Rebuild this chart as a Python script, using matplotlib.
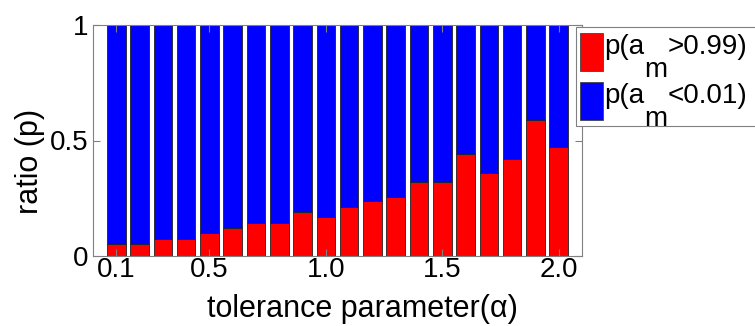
import matplotlib.pyplot as plt
from matplotlib.patches import Rectangle

plt.rcParams['font.family'] = ['Liberation Sans', 'DejaVu Sans']

# tolerance parameter values and the share of each outcome
alpha = [0.1, 0.2, 0.3, 0.4, 0.5, 0.6, 0.7, 0.8, 0.9, 1.0,
         1.1, 1.2, 1.3, 1.4, 1.5, 1.6, 1.7, 1.8, 1.9, 2.0]
p_high = [0.050, 0.050, 0.075, 0.075, 0.098, 0.121, 0.145, 0.145, 0.189, 0.167,
          0.210, 0.236, 0.255, 0.319, 0.319, 0.443, 0.359, 0.418, 0.587, 0.474]
p_low = [1 - v for v in p_high]

xtick_vals = [0.1, 0.5, 1.0, 1.5, 2.0]
xtick_labels = ['0.1', '0.5', '1.0', '1.5', '2.0']

RED = '#ff0000'
BLUE = '#0000ff'
W, H = 755, 326


def px(x, y):
    # pixel position (from top-left) -> figure fraction
    return x / W, 1 - y / H


def legend_entry(fig, renderer, color, y_patch, y_base, pre, sub, post):
    fig.add_artist(Rectangle(px(580, y_patch + 38)[::1], 23 / W, 38 / H,
                             transform=fig.transFigure, facecolor=color,
                             edgecolor='#444444', linewidth=0.6))
    x0, yb = px(604, y_base)
    t1 = fig.text(x0, yb, pre, fontsize=20, va='baseline')
    x1 = t1.get_window_extent(renderer).x1 / fig.dpi / fig.get_figwidth()
    t2 = fig.text(x1, px(0, y_base + 23)[1], sub, fontsize=20, va='baseline')
    x2 = t2.get_window_extent(renderer).x1 / fig.dpi / fig.get_figwidth()
    fig.text(x2, yb, post, fontsize=20, va='baseline')


def main():
    fig = plt.figure(figsize=(7.55, 3.26), dpi=100)
    ax = fig.add_axes([93 / W, 1 - 256 / H, 489 / W, 231 / H])

    ax.bar(alpha, p_high, width=0.08, color=RED, edgecolor='#222222', linewidth=0.6)
    ax.bar(alpha, p_low, width=0.08, bottom=p_high, color=BLUE,
           edgecolor='#222222', linewidth=0.6)

    ax.set_xlim(0, 2.1)
    ax.set_ylim(0, 1)
    ax.set_xticks(xtick_vals)
    ax.set_xticklabels(xtick_labels)
    ax.set_yticks([0, 0.5, 1])
    ax.set_yticklabels(['0', '0.5', '1'])
    ax.tick_params(direction='in', length=5, width=0.8, color='#808080',
                   labelsize=20, top=True, right=True)
    ax.tick_params(axis='x', pad=1)
    ax.tick_params(axis='y', pad=3)
    for s in ax.spines.values():
        s.set_color('#808080')
        s.set_linewidth(0.8)

    ax.set_xlabel('tolerance parameter(α)', fontsize=22)
    ax.xaxis.label.set_va('baseline')
    ax.xaxis.set_label_coords(0.55, -60.7 / 231)
    ax.set_ylabel('ratio (p)', fontsize=22)
    ax.yaxis.label.set_va('baseline')
    ax.yaxis.set_label_coords(-55 / 489, 0.41)

    # legend box, running off the right edge of the figure
    fig.add_artist(Rectangle(px(576, 126), 200 / W, 99 / H,
                             transform=fig.transFigure, facecolor='white',
                             edgecolor='#808080', linewidth=0.8))
    renderer = fig.canvas.get_renderer()
    legend_entry(fig, renderer, RED, 33.5, 54, 'p(a', 'm', '>0.99)')
    legend_entry(fig, renderer, BLUE, 81.5, 103, 'p(a', 'm', '<0.01)')

    fig.savefig('out.png', dpi=100)


if __name__ == "__main__":
    main()
